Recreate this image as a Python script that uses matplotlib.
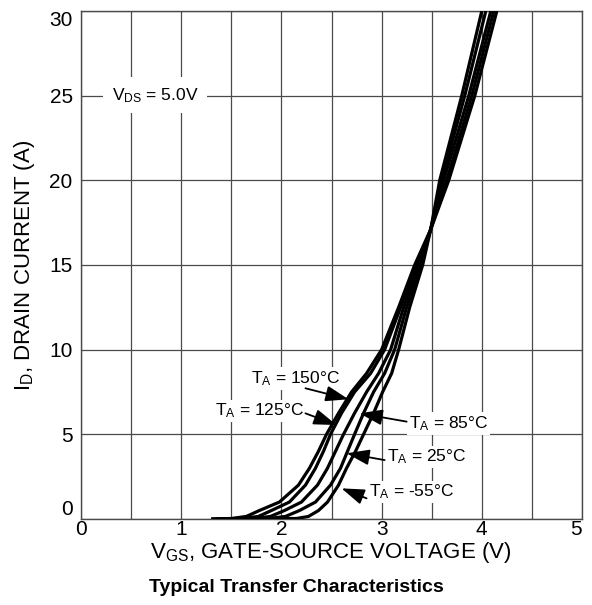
import matplotlib
matplotlib.use("Agg")
import matplotlib.pyplot as plt

plt.rcParams["font.family"] = ["Liberation Sans", "DejaVu Sans"]
plt.rcParams["mathtext.default"] = "regular"

# drain current levels (A) shared by every curve
drain_current = [0, 0.03, 0.15, 0.5, 1, 2, 3, 4, 5, 6.25, 7.5, 8.6, 10, 12.5, 15, 17.1, 20, 25, 30]

# gate-source voltage (V) needed for each current level, per ambient temperature
vgs_150 = [1.30, 1.50, 1.65, 1.78, 1.98, 2.17, 2.28, 2.37, 2.45, 2.57, 2.70, 2.85, 3.00, 3.17, 3.33, 3.49, 3.67, 3.93, 4.15]
vgs_125 = [1.30, 1.60, 1.77, 1.90, 2.08, 2.24, 2.34, 2.42, 2.49, 2.60, 2.73, 2.89, 3.03, 3.19, 3.35, 3.49, 3.65, 3.90, 4.12]
vgs_85 = [1.35, 1.72, 1.89, 2.03, 2.20, 2.36, 2.46, 2.54, 2.62, 2.73, 2.85, 2.97, 3.09, 3.22, 3.37, 3.49, 3.62, 3.87, 4.09]
vgs_25 = [1.40, 1.88, 2.04, 2.18, 2.34, 2.49, 2.59, 2.66, 2.73, 2.82, 2.92, 3.03, 3.13, 3.25, 3.39, 3.49, 3.60, 3.83, 4.04]
vgs_m55 = [1.50, 2.15, 2.27, 2.37, 2.46, 2.57, 2.65, 2.74, 2.82, 2.92, 3.01, 3.10, 3.17, 3.28, 3.41, 3.49, 3.58, 3.80, 4.00]

temp_labels = ["150", "125", "85", "25", "-55"]
x_ticks = [0, 1, 2, 3, 4, 5]
y_ticks = [0, 5, 10, 15, 20, 25, 30]

W, H = 592, 605
fig = plt.figure(figsize=(W / 100, H / 100), dpi=100)
ax = fig.add_axes([81 / W, 1 - 519 / H, 501 / W, 508 / H])

# ---- grid -------------------------------------------------------------
ax.set_xlim(0, 5)
ax.set_ylim(0, 30)
ax.set_xticks(x_ticks)
ax.set_xticks([0.5, 1.5, 2.5, 3.5, 4.5], minor=True)
ax.set_yticks(y_ticks)
ax.grid(True, which="both", axis="x", color="#4a4a4a", lw=0.9)
ax.grid(True, which="major", axis="y", color="#4a4a4a", lw=0.9)
ax.tick_params(which="both", length=0, labelsize=15, colors="black")
ax.tick_params(axis="y", pad=6)
ax.tick_params(axis="x", pad=1)
for s in ax.spines.values():
    s.set_color("#4a4a4a")
    s.set_linewidth(1.0)
ax.set_axisbelow(True)

# nudge end labels so they stay inside the frame
ylabels = ax.get_yticklabels()
ylabels[0].set_va("bottom")
ylabels[-1].set_va("top")
xlabels = ax.get_xticklabels()
xlabels[-1].set_ha("right")

# ---- curves -----------------------------------------------------------
for v in [vgs_150, vgs_125, vgs_85, vgs_25, vgs_m55]:
    ax.plot(v, drain_current, color="black", lw=2.3,
            solid_joinstyle="round", solid_capstyle="butt", zorder=3)

# ---- labels with arrows ----------------------------------------------
# (text left x, text baseline y, arrow tail, arrow tip)
callouts = [
    (1.70, 8.01, (2.24, 7.72), (2.67, 7.07)),
    (1.34, 6.10, (2.24, 6.24), (2.55, 5.55)),
    (3.27, 5.36, (3.25, 5.75), (2.78, 6.24)),
    (3.05, 3.39, (3.03, 3.48), (2.65, 3.88)),
    (2.87, 1.32, (2.85, 1.22), (2.60, 1.81)),
]
for t, (tx, ty, tail, tip) in zip(temp_labels, callouts):
    ax.text(tx, ty, r"T$_{A}$ = " + t + "°C", fontsize=12.5, ha="left", va="baseline",
            zorder=4, bbox=dict(boxstyle="square,pad=0.12", fc="white", ec="none"))
    ax.annotate("", xy=tip, xytext=tail, zorder=5,
                arrowprops=dict(arrowstyle="-|>,head_length=0.7,head_width=0.24",
                                mutation_scale=20, color="black", lw=1.3,
                                shrinkA=0, shrinkB=0))

ax.text(0.31, 24.75, r"V$_{DS}$ = 5.0V", fontsize=12.5, ha="left", va="baseline",
        zorder=4, bbox=dict(boxstyle="square,pad=0.5", fc="white", ec="none"))

# ---- axis titles ------------------------------------------------------
fig.text(331 / W, 1 - 558 / H, r"V$_{GS}$, GATE-SOURCE VOLTAGE (V)",
         fontsize=16, ha="center", va="baseline")
fig.text(25 / W, 1 - 265 / H, r"I$_{D}$, DRAIN CURRENT (A)",
         fontsize=16, ha="center", va="center", rotation=90)
fig.text(0.5, 1 - 592 / H, "Typical Transfer Characteristics",
         fontsize=14, fontweight="bold", ha="center", va="baseline")

fig.savefig("out.png", dpi=100)
